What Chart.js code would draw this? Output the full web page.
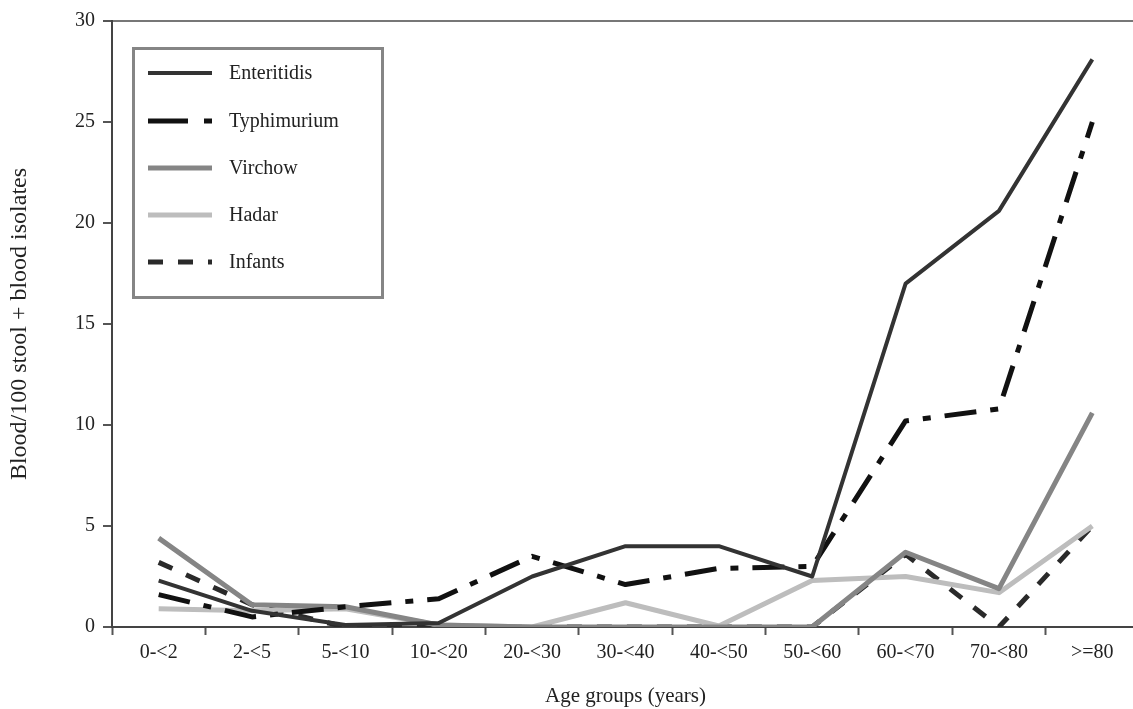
<!DOCTYPE html>
<html>
<head>
<meta charset="utf-8">
<script src="https://cdn.jsdelivr.net/npm/chart.js@4/dist/chart.umd.min.js"></script>
<style>
  html, body { margin: 0; padding: 0; background: #fff; overflow: hidden; }
  #wrap { width: 1140px; height: 709px; }
</style>
</head>
<body>
<div id="wrap"><canvas id="myChart"></canvas></div>
<script>
// age groups on the x axis
var ageGroups = ['0-<2', '2-<5', '5-<10', '10-<20', '20-<30', '30-<40', '40-<50', '50-<60', '60-<70', '70-<80', '>=80'];

// blood / 100 stool + blood isolates
var enteritidis = [2.3, 0.8, 0.1, 0.2, 2.5, 4.0, 4.0, 2.5, 17.0, 20.6, 28.1];
var typhimurium = [1.6, 0.5, 1.0, 1.4, 3.5, 2.1, 2.9, 3.0, 10.2, 10.8, 25.0];
var virchow = [4.4, 1.1, 1.0, 0.1, 0, 0, 0, 0, 3.7, 1.9, 10.6];
var hadar = [0.9, 0.8, 0.9, 0.1, 0, 1.2, 0.05, 2.3, 2.5, 1.7, 5.0];
var infants = [3.2, 1.1, 0, 0, 0, 0, 0, 0, 3.6, 0, 5.0];

var yTicks = [0, 5, 10, 15, 20, 25, 30];

var serif = '"Liberation Serif", "DejaVu Serif", serif';

// legend drawn inside the plot, boxed, like the original figure
var boxLegend = {
    id: 'boxLegend',
    afterDraw: function (chart) {
        var ctx = chart.ctx;
        ctx.save();
        ctx.fillStyle = '#fff';
        ctx.fillRect(133, 48, 250, 249);
        ctx.strokeStyle = '#858585';
        ctx.lineWidth = 3;
        ctx.strokeRect(133.5, 48.5, 249, 249);

        var rowY = [73, 121, 168, 215, 262];
        chart.data.datasets.forEach(function (ds, i) {
            var y = rowY[i];
            ctx.beginPath();
            ctx.strokeStyle = ds.borderColor;
            ctx.lineWidth = ds.borderWidth;
            ctx.setLineDash(ds.legendDash || []);
            ctx.moveTo(148, y);
            ctx.lineTo(212, y);
            ctx.stroke();
            ctx.setLineDash([]);
            ctx.fillStyle = '#222';
            ctx.font = '20px ' + serif;
            ctx.textBaseline = 'middle';
            ctx.fillText(ds.label, 229, y + 1);
        });
        ctx.restore();
    }
};

var ctx = document.getElementById('myChart').getContext('2d');

var myChart = new Chart(ctx, {
    type: 'line',
    data: {
        labels: ageGroups,
        datasets: [
            {
                label: 'Enteritidis',
                data: enteritidis,
                borderColor: '#333333',
                borderWidth: 4
            },
            {
                label: 'Typhimurium',
                data: typhimurium,
                borderColor: '#111111',
                borderWidth: 5,
                borderDash: [32, 14, 8, 14],
                legendDash: [40, 16, 8, 100]
            },
            {
                label: 'Virchow',
                data: virchow,
                borderColor: '#858585',
                borderWidth: 5
            },
            {
                label: 'Hadar',
                data: hadar,
                borderColor: '#bdbdbd',
                borderWidth: 5
            },
            {
                label: 'Infants',
                data: infants,
                borderColor: '#2a2a2a',
                borderWidth: 5,
                borderDash: [15, 15],
                legendDash: [15, 15]
            }
        ]
    },
    options: {
        responsive: true,
        maintainAspectRatio: false,
        animation: false,
        layout: { padding: { top: 21, right: 1, left: 0, bottom: 0 } },
        elements: {
            point: { radius: 0 },
            line: { tension: 0, borderJoinStyle: 'round', fill: false }
        },
        plugins: {
            legend: { display: false },
            tooltip: { enabled: false }
        },
        scales: {
            x: {
                offset: true,
                grid: {
                    offset: true,
                    drawOnChartArea: false,
                    tickLength: 8,
                    tickColor: '#555',
                    tickWidth: 2
                },
                border: { display: true, color: '#444', width: 2 },
                ticks: {
                    color: '#222',
                    font: { family: serif, size: 20 },
                    padding: 6,
                    maxRotation: 0,
                    autoSkip: false
                },
                title: {
                    display: true,
                    text: 'Age groups (years)',
                    color: '#222',
                    font: { family: serif, size: 21 },
                    padding: { top: 18, bottom: 0 }
                },
                afterFit: function (scale) { scale.height = 82; }
            },
            y: {
                min: 0,
                max: 30,
                afterBuildTicks: function (scale) {
                    scale.ticks = yTicks.map(function (v) { return { value: v }; });
                },
                grid: {
                    color: function (c) { return c.tick && c.tick.value === 30 ? '#777' : 'rgba(0,0,0,0)'; },
                    lineWidth: 2,
                    tickLength: 9,
                    tickColor: '#555',
                    tickWidth: 2
                },
                border: { display: true, color: '#444', width: 2 },
                ticks: {
                    color: '#222',
                    font: { family: serif, size: 20 },
                    padding: 8
                },
                title: {
                    display: true,
                    text: 'Blood/100 stool + blood isolates',
                    color: '#222',
                    font: { family: serif, size: 24 },
                    padding: { top: 5, bottom: 0 }
                },
                afterFit: function (scale) { scale.width = 112; }
            }
        }
    },
    plugins: [boxLegend]
});
</script>
</body>
</html>
